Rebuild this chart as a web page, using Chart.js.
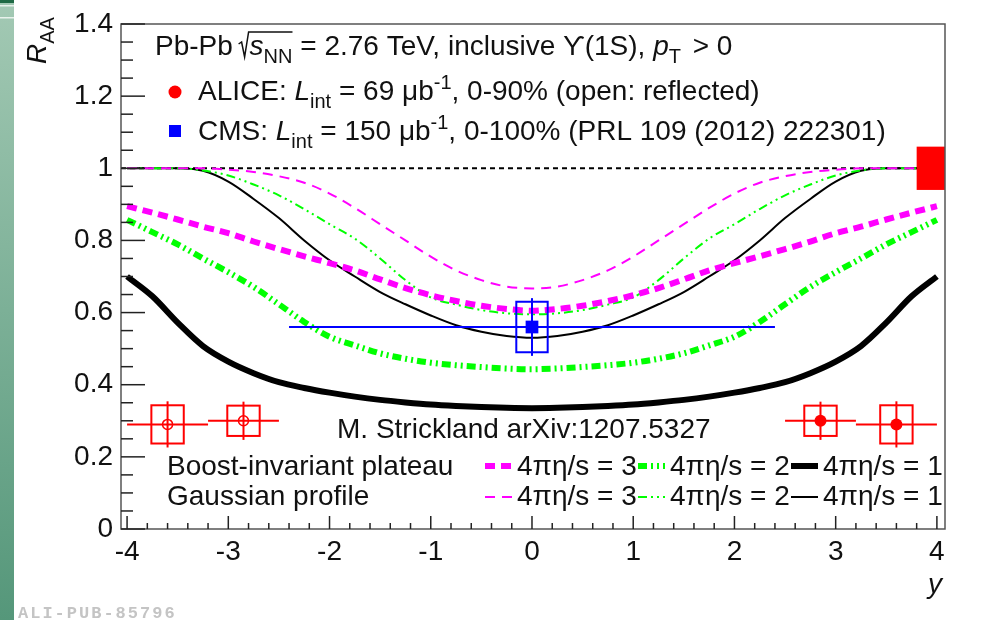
<!DOCTYPE html>
<html>
<head>
<meta charset="utf-8">
<script src="https://cdn.jsdelivr.net/npm/chart.js@4.4.0/dist/chart.umd.min.js"></script>
<style>
  html, body { margin: 0; padding: 0; background: #fff; }
  canvas { display: block; }
</style>
</head>
<body>
<canvas id="raaChart" width="983" height="620"></canvas>
<script>
// Rapidity grid of the Strickland model curves
const rapidity = [-4, -3.75, -3.5, -3.25, -3, -2.75, -2.5, -2.25, -2, -1.75, -1.5, -1.25, -1, -0.75, -0.5, -0.25, 0,
                  0.25, 0.5, 0.75, 1, 1.25, 1.5, 1.75, 2, 2.25, 2.5, 2.75, 3, 3.25, 3.5, 3.75, 4];

// Boost-invariant plateau
const plateauEta3 = [0.895, 0.877, 0.858, 0.838, 0.82, 0.797, 0.776, 0.756, 0.737, 0.717, 0.692, 0.668, 0.648, 0.632, 0.619, 0.61, 0.605,
                     0.61, 0.619, 0.632, 0.648, 0.668, 0.692, 0.717, 0.737, 0.756, 0.776, 0.797, 0.82, 0.838, 0.858, 0.877, 0.895];
const plateauEta2 = [0.857, 0.823, 0.789, 0.75, 0.712, 0.671, 0.623, 0.574, 0.533, 0.509, 0.487, 0.472, 0.461, 0.454, 0.449, 0.445, 0.443,
                     0.445, 0.449, 0.454, 0.461, 0.472, 0.487, 0.509, 0.533, 0.574, 0.623, 0.671, 0.712, 0.75, 0.789, 0.823, 0.857];
const plateauEta1 = [0.70, 0.645, 0.572, 0.507, 0.464, 0.432, 0.407, 0.391, 0.378, 0.367, 0.358, 0.351, 0.345, 0.341, 0.338, 0.336, 0.335,
                     0.336, 0.338, 0.341, 0.345, 0.351, 0.358, 0.367, 0.378, 0.391, 0.407, 0.432, 0.464, 0.507, 0.572, 0.645, 0.70];

// Gaussian profile
const gaussEta3 = [1, 1, 1, 1, 0.996, 0.99, 0.978, 0.96, 0.93, 0.89, 0.845, 0.80, 0.755, 0.717, 0.69, 0.672, 0.667,
                   0.672, 0.69, 0.717, 0.755, 0.80, 0.845, 0.89, 0.93, 0.96, 0.978, 0.99, 0.996, 1, 1, 1, 1];
const gaussEta2 = [1, 1, 1, 0.994, 0.98, 0.955, 0.925, 0.887, 0.845, 0.805, 0.75, 0.69, 0.642, 0.622, 0.607, 0.598, 0.595,
                   0.598, 0.607, 0.622, 0.642, 0.69, 0.75, 0.805, 0.845, 0.887, 0.925, 0.955, 0.98, 0.994, 1, 1, 1];
const gaussEta1 = [1, 1, 1, 0.993, 0.963, 0.915, 0.862, 0.80, 0.745, 0.70, 0.657, 0.623, 0.592, 0.565, 0.547, 0.535, 0.53,
                   0.535, 0.547, 0.565, 0.592, 0.623, 0.657, 0.70, 0.745, 0.80, 0.862, 0.915, 0.963, 0.993, 1, 1, 1];

// ALICE points (forward rapidity) and their reflection
const aliceY = [2.85, 3.6];
const aliceReflY = [-2.85, -3.6];
const aliceRaa = [0.30, 0.29];
const aliceBinLow = [2.5, 3.2];
const aliceBinHigh = [3.2, 4.0];
const aliceStat = [0.053, 0.064];
const aliceSyst = [0.042, 0.053];

// CMS point
const cmsY = [0];
const cmsRaa = [0.56];
const cmsBinLow = [-2.4];
const cmsBinHigh = [2.4];
const cmsStat = [0.08];
const cmsSyst = [0.07];

// global uncertainty around unity
const globalUnc = 0.06;

// axes
const xTickValues = [-4, -3, -2, -1, 0, 1, 2, 3, 4];
const xTickLabels = ['-4', '-3', '-2', '-1', '0', '1', '2', '3', '4'];
const yTickValues = [0, 0.2, 0.4, 0.6, 0.8, 1, 1.2, 1.4];
const yTickLabels = ['0', '0.2', '0.4', '0.6', '0.8', '1', '1.2', '1.4'];

const FONT = '"Liberation Sans", Arial, Helvetica, sans-serif';
const MAGENTA = '#ff00ff';
const GREEN = '#00ff00';
const RED = '#ff0000';
const BLUE = '#0000ff';
const DASH3 = [10, 6];
const DASH3_THIN = [10, 7];
const DASH2 = [9, 4, 2, 4, 2, 4];

function toPoints(xs, ys) {
    return xs.map((x, i) => ({ x: x, y: ys[i] }));
}

function curve(label, ys, color, width, dash) {
    return {
        label: label,
        data: toPoints(rapidity, ys),
        showLine: true,
        borderColor: color,
        borderWidth: width,
        borderDash: dash,
        borderCapStyle: 'butt',
        cubicInterpolationMode: 'monotone',
        pointRadius: 0,
        order: 2
    };
}

function setFont(ctx, size, italic) {
    ctx.font = (italic ? 'italic ' : '') + size + 'px ' + FONT;
}

// draw text pieces left to right (italic, subscript, superscript)
function drawRich(ctx, x, y, parts) {
    parts.forEach(p => {
        if (typeof p === 'string') p = { t: p };
        const small = p.sub || p.sup;
        setFont(ctx, small ? 20 : 28, p.it);
        const dy = p.sub ? 8 : (p.sup ? -11 : 0);
        ctx.fillText(p.t, x, y + dy);
        x += ctx.measureText(p.t).width + (p.after || 0);
    });
    return x;
}

function line(ctx, x0, y0, x1, y1) {
    ctx.beginPath();
    ctx.moveTo(x0, y0);
    ctx.lineTo(x1, y1);
    ctx.stroke();
}

function drawErrors(chart, xs, ys, lo, hi, stat, syst, color, boxHalf) {
    const { ctx, scales: { x, y } } = chart;
    ctx.save();
    ctx.strokeStyle = color;
    ctx.lineWidth = 2;
    xs.forEach((xv, i) => {
        const px = x.getPixelForValue(xv);
        const py = y.getPixelForValue(ys[i]);
        line(ctx, x.getPixelForValue(lo[i]), py, x.getPixelForValue(hi[i]), py);
        line(ctx, px, y.getPixelForValue(ys[i] - stat[i]), px, y.getPixelForValue(ys[i] + stat[i]));
        const bx0 = x.getPixelForValue(xv - boxHalf);
        const bx1 = x.getPixelForValue(xv + boxHalf);
        const by0 = y.getPixelForValue(ys[i] + syst[i]);
        const by1 = y.getPixelForValue(ys[i] - syst[i]);
        ctx.strokeRect(bx0, by0, bx1 - bx0, by1 - by0);
    });
    ctx.restore();
}

function drawSample(ctx, x0, x1, y, color, width, dash) {
    ctx.save();
    ctx.strokeStyle = color;
    ctx.lineWidth = width;
    ctx.setLineDash(dash);
    ctx.lineCap = 'butt';
    line(ctx, x0, y, x1, y);
    ctx.restore();
}

// background, slide strip on the left
const backgroundPlugin = {
    id: 'background',
    beforeDraw(chart) {
        const ctx = chart.ctx;
        ctx.save();
        ctx.fillStyle = '#ffffff';
        ctx.fillRect(0, 0, chart.width, chart.height);
        const g = ctx.createLinearGradient(0, 0, 0, chart.height);
        g.addColorStop(0, '#a3c9b4');
        g.addColorStop(1, '#55977a');
        ctx.fillStyle = g;
        ctx.fillRect(0, 0, 14, chart.height);
        ctx.fillStyle = '#1f6a45';
        ctx.fillRect(0, 0, 14, 3);
        ctx.fillStyle = '#e8f2ec';
        ctx.fillRect(0, 5, 14, 1.5);
        ctx.fillRect(0, 17, 14, 1.5);
        ctx.restore();
    }
};

// error bars drawn just below their markers
const errorPlugin = {
    id: 'errors',
    beforeDatasetDraw(chart, args) {
        const id = chart.data.datasets[args.index].id;
        if (id === 'cms') drawErrors(chart, cmsY, cmsRaa, cmsBinLow, cmsBinHigh, cmsStat, cmsSyst, BLUE, 0.155);
        if (id === 'alice') drawErrors(chart, aliceY, aliceRaa, aliceBinLow, aliceBinHigh, aliceStat, aliceSyst, RED, 0.16);
        if (id === 'aliceRefl') {
            drawErrors(chart, aliceReflY, aliceRaa, aliceBinHigh.map(v => -v), aliceBinLow.map(v => -v), aliceStat, aliceSyst, RED, 0.16);
        }
    },
    afterDatasetsDraw(chart) {
        const { ctx, chartArea: a, scales: { x, y } } = chart;
        ctx.save();
        ctx.beginPath();
        ctx.rect(a.left, a.top, a.right - a.left, a.bottom - a.top);
        ctx.clip();
        ctx.fillStyle = RED;
        const x0 = x.getPixelForValue(3.8);
        const y0 = y.getPixelForValue(1 + globalUnc);
        const y1 = y.getPixelForValue(1 - globalUnc);
        ctx.fillRect(x0, y0, a.right - x0, y1 - y0);
        ctx.restore();
    }
};

// ROOT style frame, ticks, labels and texts
const framePlugin = {
    id: 'frame',
    afterDraw(chart) {
        const { ctx, chartArea: a, scales: { x, y } } = chart;
        ctx.save();

        ctx.strokeStyle = '#555';
        ctx.lineWidth = 1.5;
        ctx.strokeRect(a.left, a.top, a.right - a.left, a.bottom - a.top);

        // x ticks
        ctx.strokeStyle = '#222';
        ctx.lineWidth = 1.5;
        for (let i = -20; i <= 20; i++) {
            const px = x.getPixelForValue(i / 5);
            line(ctx, px, a.bottom, px, a.bottom - (i % 5 === 0 ? 13 : 6));
        }
        // y ticks
        for (let i = 0; i <= 28; i++) {
            const py = y.getPixelForValue(i * 0.05);
            line(ctx, a.left, py, a.left + (i % 4 === 0 ? 24 : 12), py);
        }

        ctx.fillStyle = '#111';
        setFont(ctx, 28, false);
        ctx.textAlign = 'center';
        ctx.textBaseline = 'alphabetic';
        xTickValues.forEach((v, i) => ctx.fillText(xTickLabels[i], x.getPixelForValue(v), 560));
        ctx.textAlign = 'right';
        ctx.textBaseline = 'middle';
        yTickValues.forEach((v, i) => ctx.fillText(yTickLabels[i], 113, y.getPixelForValue(v)));

        ctx.textAlign = 'left';
        ctx.textBaseline = 'alphabetic';

        // axis titles
        setFont(ctx, 28, true);
        ctx.textAlign = 'right';
        ctx.fillText('y', 942, 593);
        ctx.textAlign = 'left';
        ctx.save();
        ctx.translate(46, 64);
        ctx.rotate(-Math.PI / 2);
        drawRich(ctx, 0, 0, [{ t: 'R', it: true }, { t: 'AA', sub: true }]);
        ctx.restore();

        // header line
        let cx = drawRich(ctx, 155, 55, ['Pb-Pb ']);
        const rx = cx - 2;
        cx = drawRich(ctx, rx + 11, 55, [{ t: 's', it: true }, { t: 'NN', sub: true }]);
        ctx.strokeStyle = '#111';
        ctx.lineWidth = 1.5;
        ctx.beginPath();
        ctx.moveTo(rx, 44);
        ctx.lineTo(rx + 3, 42);
        ctx.lineTo(rx + 6, 57);
        ctx.lineTo(rx + 10, 32);
        ctx.lineTo(cx, 32);
        ctx.stroke();
        cx = drawRich(ctx, cx, 55, [' = 2.76 TeV, inclusive \u03d2(1S), ', { t: 'p', it: true }, { t: 'T', sub: true, after: 4 }, ' > 0']);

        // data legend
        ctx.fillStyle = RED;
        ctx.beginPath();
        ctx.arc(175, 92, 6.5, 0, Math.PI * 2);
        ctx.fill();
        ctx.fillStyle = BLUE;
        ctx.fillRect(169, 125, 12, 12);
        ctx.fillStyle = '#111';
        drawRich(ctx, 198, 100, ['ALICE: ', { t: 'L', it: true }, { t: 'int', sub: true }, ' = 69 \u03bcb', { t: '-1', sup: true }, ', 0-90% (open: reflected)']);
        drawRich(ctx, 198, 140, ['CMS: ', { t: 'L', it: true }, { t: 'int', sub: true }, ' = 150 \u03bcb', { t: '-1', sup: true }, ', 0-100% (PRL 109 (2012) 222301)']);

        // model legend
        drawRich(ctx, 337, 438, ['M. Strickland arXiv:1207.5327']);
        drawRich(ctx, 167, 475, ['Boost-invariant plateau']);
        drawRich(ctx, 167, 505, ['Gaussian profile']);
        const cols = [
            { x: 485, text: '4\u03c0\u03b7/s = 3', color: MAGENTA, dash: DASH3, thinDash: DASH3_THIN },
            { x: 638, text: '4\u03c0\u03b7/s = 2', color: GREEN, dash: DASH2, thinDash: DASH2 },
            { x: 791, text: '4\u03c0\u03b7/s = 1', color: '#000', dash: [], thinDash: [] }
        ];
        cols.forEach(c => {
            drawSample(ctx, c.x, c.x + 27, 466, c.color, 6, c.dash);
            drawSample(ctx, c.x, c.x + 27, 497, c.color, 2, c.thinDash);
            ctx.fillStyle = '#111';
            drawRich(ctx, c.x + 32, 475, [c.text]);
            drawRich(ctx, c.x + 32, 505, [c.text]);
        });

        // publication tag
        ctx.fillStyle = '#c4c4c4';
        ctx.font = 'bold 17px "Liberation Mono", "DejaVu Sans Mono", monospace';
        ctx.letterSpacing = '2px';
        ctx.fillText('ALI-PUB-85796', 18, 618);
        ctx.restore();
    }
};

function createRaaChart() {
    const ctx = document.getElementById('raaChart').getContext('2d');
    new Chart(ctx, {
        type: 'scatter',
        data: {
            datasets: [
                {
                    id: 'cms',
                    label: 'CMS',
                    data: toPoints(cmsY, cmsRaa),
                    pointStyle: 'rect',
                    pointRadius: 9,
                    backgroundColor: BLUE,
                    borderColor: BLUE,
                    borderWidth: 0,
                    order: 0
                },
                {
                    id: 'alice',
                    label: 'ALICE',
                    data: toPoints(aliceY, aliceRaa),
                    pointStyle: 'circle',
                    pointRadius: 6,
                    backgroundColor: RED,
                    borderColor: RED,
                    borderWidth: 0,
                    order: 0
                },
                {
                    id: 'aliceRefl',
                    label: 'ALICE reflected',
                    data: toPoints(aliceReflY, aliceRaa),
                    pointStyle: 'circle',
                    pointRadius: 5,
                    backgroundColor: 'rgba(0,0,0,0)',
                    borderColor: RED,
                    borderWidth: 1.5,
                    order: 0
                },
                curve('plateau 3', plateauEta3, MAGENTA, 6, DASH3),
                curve('plateau 2', plateauEta2, GREEN, 6, DASH2),
                curve('plateau 1', plateauEta1, '#000', 6, []),
                curve('gauss 3', gaussEta3, MAGENTA, 2, DASH3_THIN),
                curve('gauss 2', gaussEta2, GREEN, 2, DASH2),
                curve('gauss 1', gaussEta1, '#000', 2, []),
                {
                    label: 'unity',
                    data: [{ x: -4.06, y: 1 }, { x: 4.08, y: 1 }],
                    showLine: true,
                    borderColor: '#000',
                    borderWidth: 2,
                    borderDash: [5, 4],
                    pointRadius: 0,
                    order: 3
                }
            ]
        },
        options: {
            responsive: false,
            animation: false,
            layout: { padding: { left: 121, right: 38, top: 24, bottom: 91 } },
            scales: {
                x: { type: 'linear', min: -4.06, max: 4.08, display: false },
                y: { type: 'linear', min: 0, max: 1.4, display: false }
            },
            plugins: {
                legend: { display: false },
                tooltip: { enabled: false }
            }
        },
        plugins: [backgroundPlugin, errorPlugin, framePlugin]
    });
}

document.addEventListener('DOMContentLoaded', createRaaChart);
</script>
</body>
</html>
